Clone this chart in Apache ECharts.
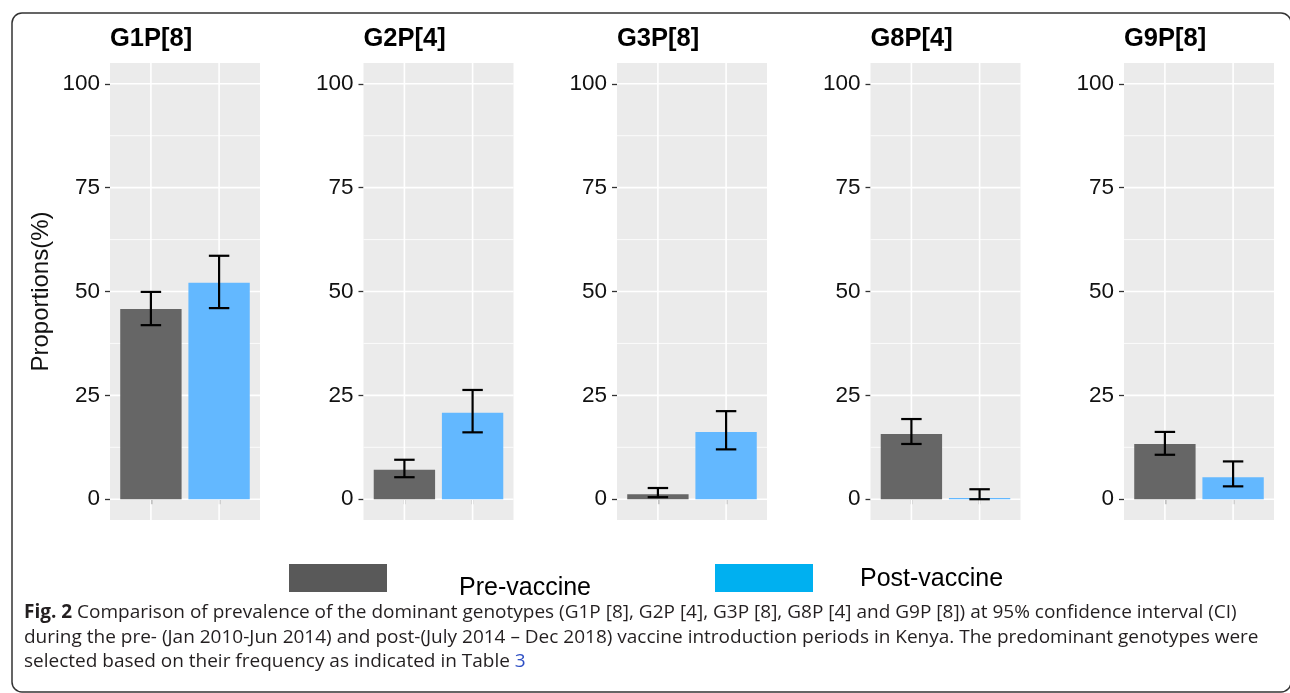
<!DOCTYPE html>
<html>
<head>
<meta charset="utf-8">
<script src="https://cdn.jsdelivr.net/npm/echarts@6/dist/echarts.min.js"></script>
<style>
  html, body { margin: 0; padding: 0; background: #ffffff; }
  #chart { width: 1290px; height: 693px; }
</style>
</head>
<body>
<div id="chart"></div>
<script>
// Genotype panels, left to right
const genotypes = ['G1P[8]', 'G2P[4]', 'G3P[8]', 'G8P[4]', 'G9P[8]'];

// Proportions (%) with 95% confidence limits
const preVaccine  = [45.8, 7.1, 1.2, 15.7, 13.3];
const preLower    = [41.9, 5.3, 0.5, 13.3, 10.7];
const preUpper    = [49.9, 9.5, 2.7, 19.3, 16.2];
const postVaccine = [52.1, 20.8, 16.2, 0.3, 5.3];
const postLower   = [46.0, 16.1, 12.0, 0.0, 3.1];
const postUpper   = [58.6, 26.3, 21.2, 2.4, 9.1];

// Axis ticks
const yTicks = [0, 25, 50, 75, 100];
const yMinor = [12.5, 37.5, 62.5, 87.5];
const xSlots = [1, 2];            // 1 = pre-vaccine, 2 = post-vaccine
const periodNames = ['Pre-vaccine', 'Post-vaccine'];

const BAR_COLORS = ['#666666', '#63B8FF'];
const LEGEND_COLORS = ['#595959', '#00B0F0'];
const FONT = 'Liberation Sans';

const panelLeft = [110, 363.5, 617, 870.5, 1124];
const panelWidth = 150, panelTop = 63, panelHeight = 457;

const grids = [], xAxes = [], yAxes = [], series = [], titles = [];

// gridline rows: [orientation (0 = horizontal, 1 = vertical), value, major flag]
const gridLineData = []
  .concat(yTicks.map(v => [0, v, 1]))
  .concat(yMinor.map(v => [0, v, 0]))
  .concat(xSlots.map(v => [1, v, 1]));

genotypes.forEach((g, i) => {
  grids.push({
    left: panelLeft[i], top: panelTop, width: panelWidth, height: panelHeight,
    show: true, backgroundColor: '#EBEBEB', borderWidth: 0
  });
  xAxes.push({
    type: 'value', gridIndex: i, min: 0.4, max: 2.6,
    axisLine: { show: false },
    axisLabel: { show: false, customValues: xSlots },
    axisTick: { show: true, customValues: xSlots, length: 5, lineStyle: { color: '#333333', width: 1.3 } },
    splitLine: { show: false }
  });
  yAxes.push({
    type: 'value', gridIndex: i, min: -5, max: 105,
    axisLine: { show: false },
    axisTick: { show: true, customValues: yTicks, length: 5, lineStyle: { color: '#333333', width: 1.3 } },
    axisLabel: { customValues: yTicks, fontSize: 22.5, color: '#111111', fontFamily: FONT, margin: 10 },
    splitLine: { show: false },
    name: i === 0 ? 'Proportions(%)' : '',
    nameLocation: 'middle', nameGap: 57,
    nameTextStyle: { fontSize: 24, color: '#111111', fontFamily: FONT }
  });
  titles.push({
    text: g, left: panelLeft[i], top: 26, padding: 0,
    textStyle: { fontSize: 25.5, fontWeight: 'bold', color: '#000000', fontFamily: FONT }
  });

  // panel gridlines
  series.push({
    type: 'custom', xAxisIndex: i, yAxisIndex: i, silent: true, z: 1,
    data: gridLineData,
    renderItem: function (params, api) {
      const orient = api.value(0), v = api.value(1), major = api.value(2);
      let p1, p2;
      if (orient === 0) { p1 = api.coord([0.4, v]); p2 = api.coord([2.6, v]); }
      else { p1 = api.coord([v, -5]); p2 = api.coord([v, 105]); }
      return {
        type: 'line',
        shape: { x1: p1[0], y1: p1[1], x2: p2[0], y2: p2[1] },
        style: { stroke: '#FFFFFF', lineWidth: major ? 1.6 : 0.8 }
      };
    }
  });

  // bars
  series.push({
    type: 'custom', xAxisIndex: i, yAxisIndex: i, z: 2,
    data: [[1, preVaccine[i]], [2, postVaccine[i]]],
    renderItem: function (params, api) {
      const x = api.value(0), v = api.value(1);
      const a = api.coord([x - 0.45, v]);
      const b = api.coord([x + 0.45, 0]);
      return {
        type: 'rect',
        shape: { x: a[0], y: a[1], width: b[0] - a[0], height: b[1] - a[1] },
        style: { fill: BAR_COLORS[x - 1] }
      };
    }
  });

  // 95% CI error bars
  series.push({
    type: 'custom', xAxisIndex: i, yAxisIndex: i, z: 3,
    data: [[1, preLower[i], preUpper[i]], [2, postLower[i], postUpper[i]]],
    renderItem: function (params, api) {
      const x = api.value(0), lo = api.value(1), hi = api.value(2);
      const top = api.coord([x, hi]), bot = api.coord([x, lo]);
      const cl = api.coord([x - 0.15, hi])[0], cr = api.coord([x + 0.15, hi])[0];
      const st = { stroke: '#000000', lineWidth: 2.2 };
      return {
        type: 'group',
        children: [
          { type: 'line', shape: { x1: top[0], y1: top[1], x2: bot[0], y2: bot[1] }, style: st },
          { type: 'line', shape: { x1: cl, y1: top[1], x2: cr, y2: top[1] }, style: st },
          { type: 'line', shape: { x1: cl, y1: bot[1], x2: cr, y2: bot[1] }, style: st }
        ]
      };
    }
  });
});

const CAP_FONT = 'Open Sans';
const CAP_SIZE = 19;
const capStyle = { fontSize: CAP_SIZE, fontFamily: CAP_FONT, fill: '#231F20' };
const graphic = [
  // figure frame
  { type: 'rect', left: 9.5, top: 10.5, shape: { x: 0, y: 0, width: 1279, height: 679, r: 10 },
    style: { fill: null, stroke: '#333333', lineWidth: 1.5 }, z: 0, silent: true },
  // legend
  { type: 'rect', shape: { x: 289, y: 564, width: 98, height: 28 }, style: { fill: LEGEND_COLORS[0] } },
  { type: 'text', x: 459, y: 588, style: { text: periodNames[0], font: '25px ' + FONT, fill: '#000000', textVerticalAlign: 'middle' } },
  { type: 'rect', shape: { x: 715, y: 564, width: 98, height: 28 }, style: { fill: LEGEND_COLORS[1] } },
  { type: 'text', x: 860, y: 579, style: { text: periodNames[1], font: '25px ' + FONT, fill: '#000000', textVerticalAlign: 'middle' } },
  // caption
  { type: 'text', x: 24, y: 613, style: Object.assign({}, capStyle, {
      text: '{b|Fig. 2} Comparison of prevalence of the dominant genotypes (G1P [8], G2P [4], G3P [8], G8P [4] and G9P [8]) at 95% confidence interval (CI)',
      textVerticalAlign: 'middle',
      rich: { b: { fontWeight: 'bold', fontSize: CAP_SIZE, fontFamily: CAP_FONT, fill: '#231F20' } } }) },
  { type: 'text', x: 24, y: 638, style: Object.assign({}, capStyle, {
      text: 'during the pre- (Jan 2010-Jun 2014) and post-(July 2014 \u2013 Dec 2018) vaccine introduction periods in Kenya. The predominant genotypes were',
      textVerticalAlign: 'middle' }) },
  { type: 'text', x: 24, y: 662, style: Object.assign({}, capStyle, {
      text: 'selected based on their frequency as indicated in Table {l|3}',
      textVerticalAlign: 'middle',
      rich: { l: { fontSize: CAP_SIZE, fontFamily: CAP_FONT, fill: '#2E4FC4' } } }) }
];

const chart = echarts.init(document.getElementById('chart'), null, { renderer: 'canvas' });
chart.setOption({
  animation: false,
  backgroundColor: '#FFFFFF',
  title: titles,
  grid: grids,
  xAxis: xAxes,
  yAxis: yAxes,
  series: series,
  graphic: graphic
});
</script>
</body>
</html>
